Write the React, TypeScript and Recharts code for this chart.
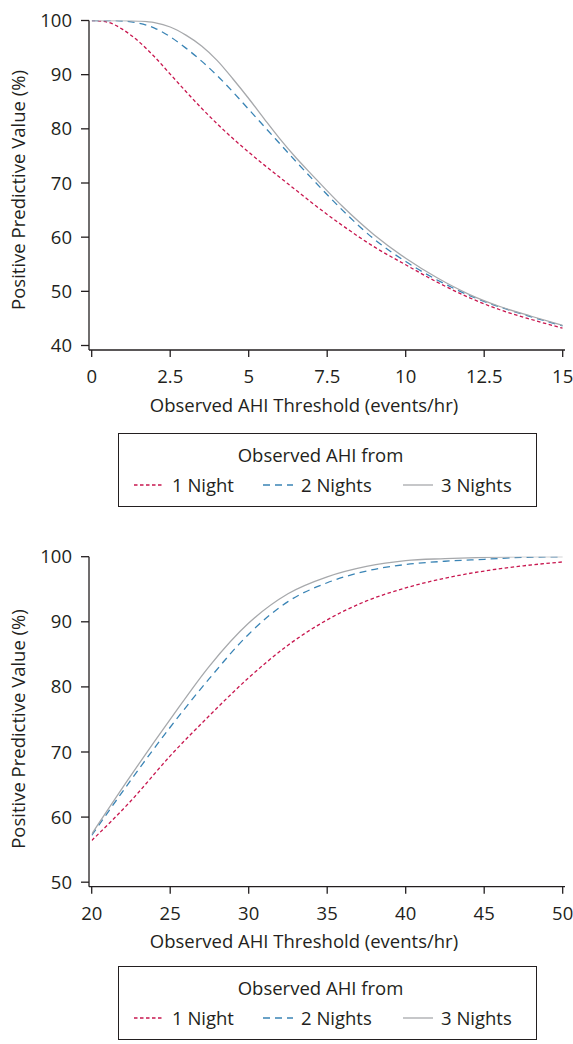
import { LineChart, Line, XAxis, YAxis } from "recharts";

const FONT = "'Open Sans', sans-serif";
const INK = "#231f20";
const FS = 18.5;

// top panel: AHI 0-15
const topX = [0, 0.5, 1, 1.5, 2, 2.5, 3, 3.5, 4, 4.5, 5, 5.5, 6, 6.5, 7, 8, 9, 10, 11, 12, 13, 14, 15];
const top1Night = [100, 99.7, 98.3, 96.1, 93.3, 90.1, 86.9, 83.8, 80.9, 78.2, 75.7, 73.3, 71, 68.7, 66.4, 62.1, 58.2, 54.9, 51.7, 48.9, 46.6, 44.8, 43.2];
const top2Nights = [100, 100, 99.9, 99.5, 98.6, 97, 94.9, 92.5, 89.8, 86.8, 83.6, 80.4, 77.2, 74, 70.9, 64.9, 59.6, 55.5, 52.1, 49.3, 47.1, 45.3, 43.6];
const top3Nights = [100, 100, 100, 99.9, 99.6, 98.8, 97.3, 95.3, 92.6, 89.2, 85.6, 81.8, 78.1, 74.7, 71.6, 65.6, 60.4, 56.1, 52.5, 49.5, 47.2, 45.4, 43.7];
const topXTicks = [0, 2.5, 5, 7.5, 10, 12.5, 15];
const topYTicks = [40, 50, 60, 70, 80, 90, 100];

// bottom panel: AHI 20-50
const bottomX = [20, 22.5, 25, 27.5, 30, 32.5, 35, 37.5, 40, 42.5, 45, 47.5, 50];
const bottom1Night = [56.4, 62.5, 69.4, 75.6, 81.4, 86.4, 90.3, 93.2, 95.2, 96.7, 97.8, 98.6, 99.2];
const bottom2Nights = [57.2, 65.7, 73.8, 81.3, 88.1, 93.1, 96, 97.8, 98.8, 99.3, 99.6, 99.9, 100];
const bottom3Nights = [57.4, 66.4, 75, 83.2, 89.8, 94.3, 96.9, 98.5, 99.4, 99.7, 99.9, 100, 100];
const bottomXTicks = [20, 25, 30, 35, 40, 45, 50];
const bottomYTicks = [50, 60, 70, 80, 90, 100];

const series = [
  { key: "n1", name: "1 Night", color: "#c8174f", dash: "3.5 2.5" },
  { key: "n2", name: "2 Nights", color: "#3a84b5", dash: "7 5" },
  { key: "n3", name: "3 Nights", color: "#a7a9ac", dash: undefined },
];

const topData = topX.map((x, i) => ({ x, n1: top1Night[i], n2: top2Nights[i], n3: top3Nights[i] }));
const bottomData = bottomX.map((x, i) => ({ x, n1: bottom1Night[i], n2: bottom2Nights[i], n3: bottom3Nights[i] }));

const textStyle = { fontFamily: FONT, fontSize: FS, fill: INK };

interface PanelProps {
  data: typeof topData;
  xDomain: [number, number];
  xTicks: number[];
  yDomain: [number, number];
  yTicks: number[];
  top: number;
  marginTop: number;
  height: number;
  labelY: number;
}

const Panel = ({ data, xDomain, xTicks, yDomain, yTicks, top, marginTop, height, labelY }: PanelProps) => (
  <div style={{ position: "absolute", left: 0, top }}>
    <LineChart width={573} height={height} data={data} margin={{ top: marginTop, right: 8, bottom: 0, left: 0 }}>
      <XAxis
        dataKey="x"
        type="number"
        domain={xDomain}
        ticks={xTicks}
        allowDataOverflow
        padding={{ left: 2.7, right: 2.3 }}
        height={75}
        tickSize={7}
        tickMargin={13}
        stroke={INK}
        strokeWidth={1.3}
        tick={textStyle}
        label={{
          value: "Observed AHI Threshold (events/hr)",
          position: "insideBottom",
          offset: 13.5,
          dx: -23,
          style: textStyle,
        }}
      />
      <YAxis
        type="number"
        domain={yDomain}
        ticks={yTicks}
        allowDataOverflow
        padding={{ top: 0, bottom: 4.5 }}
        width={89}
        tickSize={8}
        tickMargin={9}
        stroke={INK}
        strokeWidth={1.3}
        tick={textStyle}
        label={{
          content: () => (
            <text transform={`translate(25, ${labelY}) rotate(-90)`} textAnchor="middle" style={textStyle}>
              Positive Predictive Value (%)
            </text>
          ),
        }}
      />
      {series.map((s) => (
        <Line
          key={s.key}
          type="monotone"
          dataKey={s.key}
          name={s.name}
          stroke={s.color}
          strokeWidth={1.3}
          strokeDasharray={s.dash}
          dot={false}
          activeDot={false}
          isAnimationActive={false}
        />
      ))}
    </LineChart>
  </div>
);

const LegendBox = ({ top }: { top: number }) => (
  <div
    style={{
      position: "absolute",
      left: 118,
      top,
      width: 419,
      height: 74,
      boxSizing: "border-box",
      border: `1px solid ${INK}`,
      fontFamily: FONT,
      fontSize: FS,
      color: INK,
      lineHeight: "24px",
    }}
  >
    <div style={{ position: "absolute", top: 9, left: 0, right: 14, textAlign: "center" }}>Observed AHI from</div>
    {series.map((s, i) => (
      <div key={s.key} style={{ position: "absolute", top: 39, left: [15, 144, 284][i], display: "flex", alignItems: "center" }}>
        <svg width={30} height={4} style={{ marginRight: 8 }}>
          <line x1={0} y1={2} x2={30} y2={2} stroke={s.color} strokeWidth={1.3} strokeDasharray={s.dash} />
        </svg>
        <span>{s.name}</span>
      </div>
    ))}
  </div>
);

export default function App() {
  return (
    <div style={{ position: "absolute", left: 0, top: 0, width: 573, height: 1044, background: "#fff" }}>
      <Panel
        data={topData}
        xDomain={[0, 15]}
        xTicks={topXTicks}
        yDomain={[40, 100]}
        yTicks={topYTicks}
        top={0}
        marginTop={20.5}
        height={425}
        labelY={190}
      />
      <LegendBox top={433} />
      <Panel
        data={bottomData}
        xDomain={[20, 50]}
        xTicks={bottomXTicks}
        yDomain={[50, 100]}
        yTicks={bottomYTicks}
        top={540}
        marginTop={16.7}
        height={421.7}
        labelY={189}
      />
      <LegendBox top={966} />
    </div>
  );
}
